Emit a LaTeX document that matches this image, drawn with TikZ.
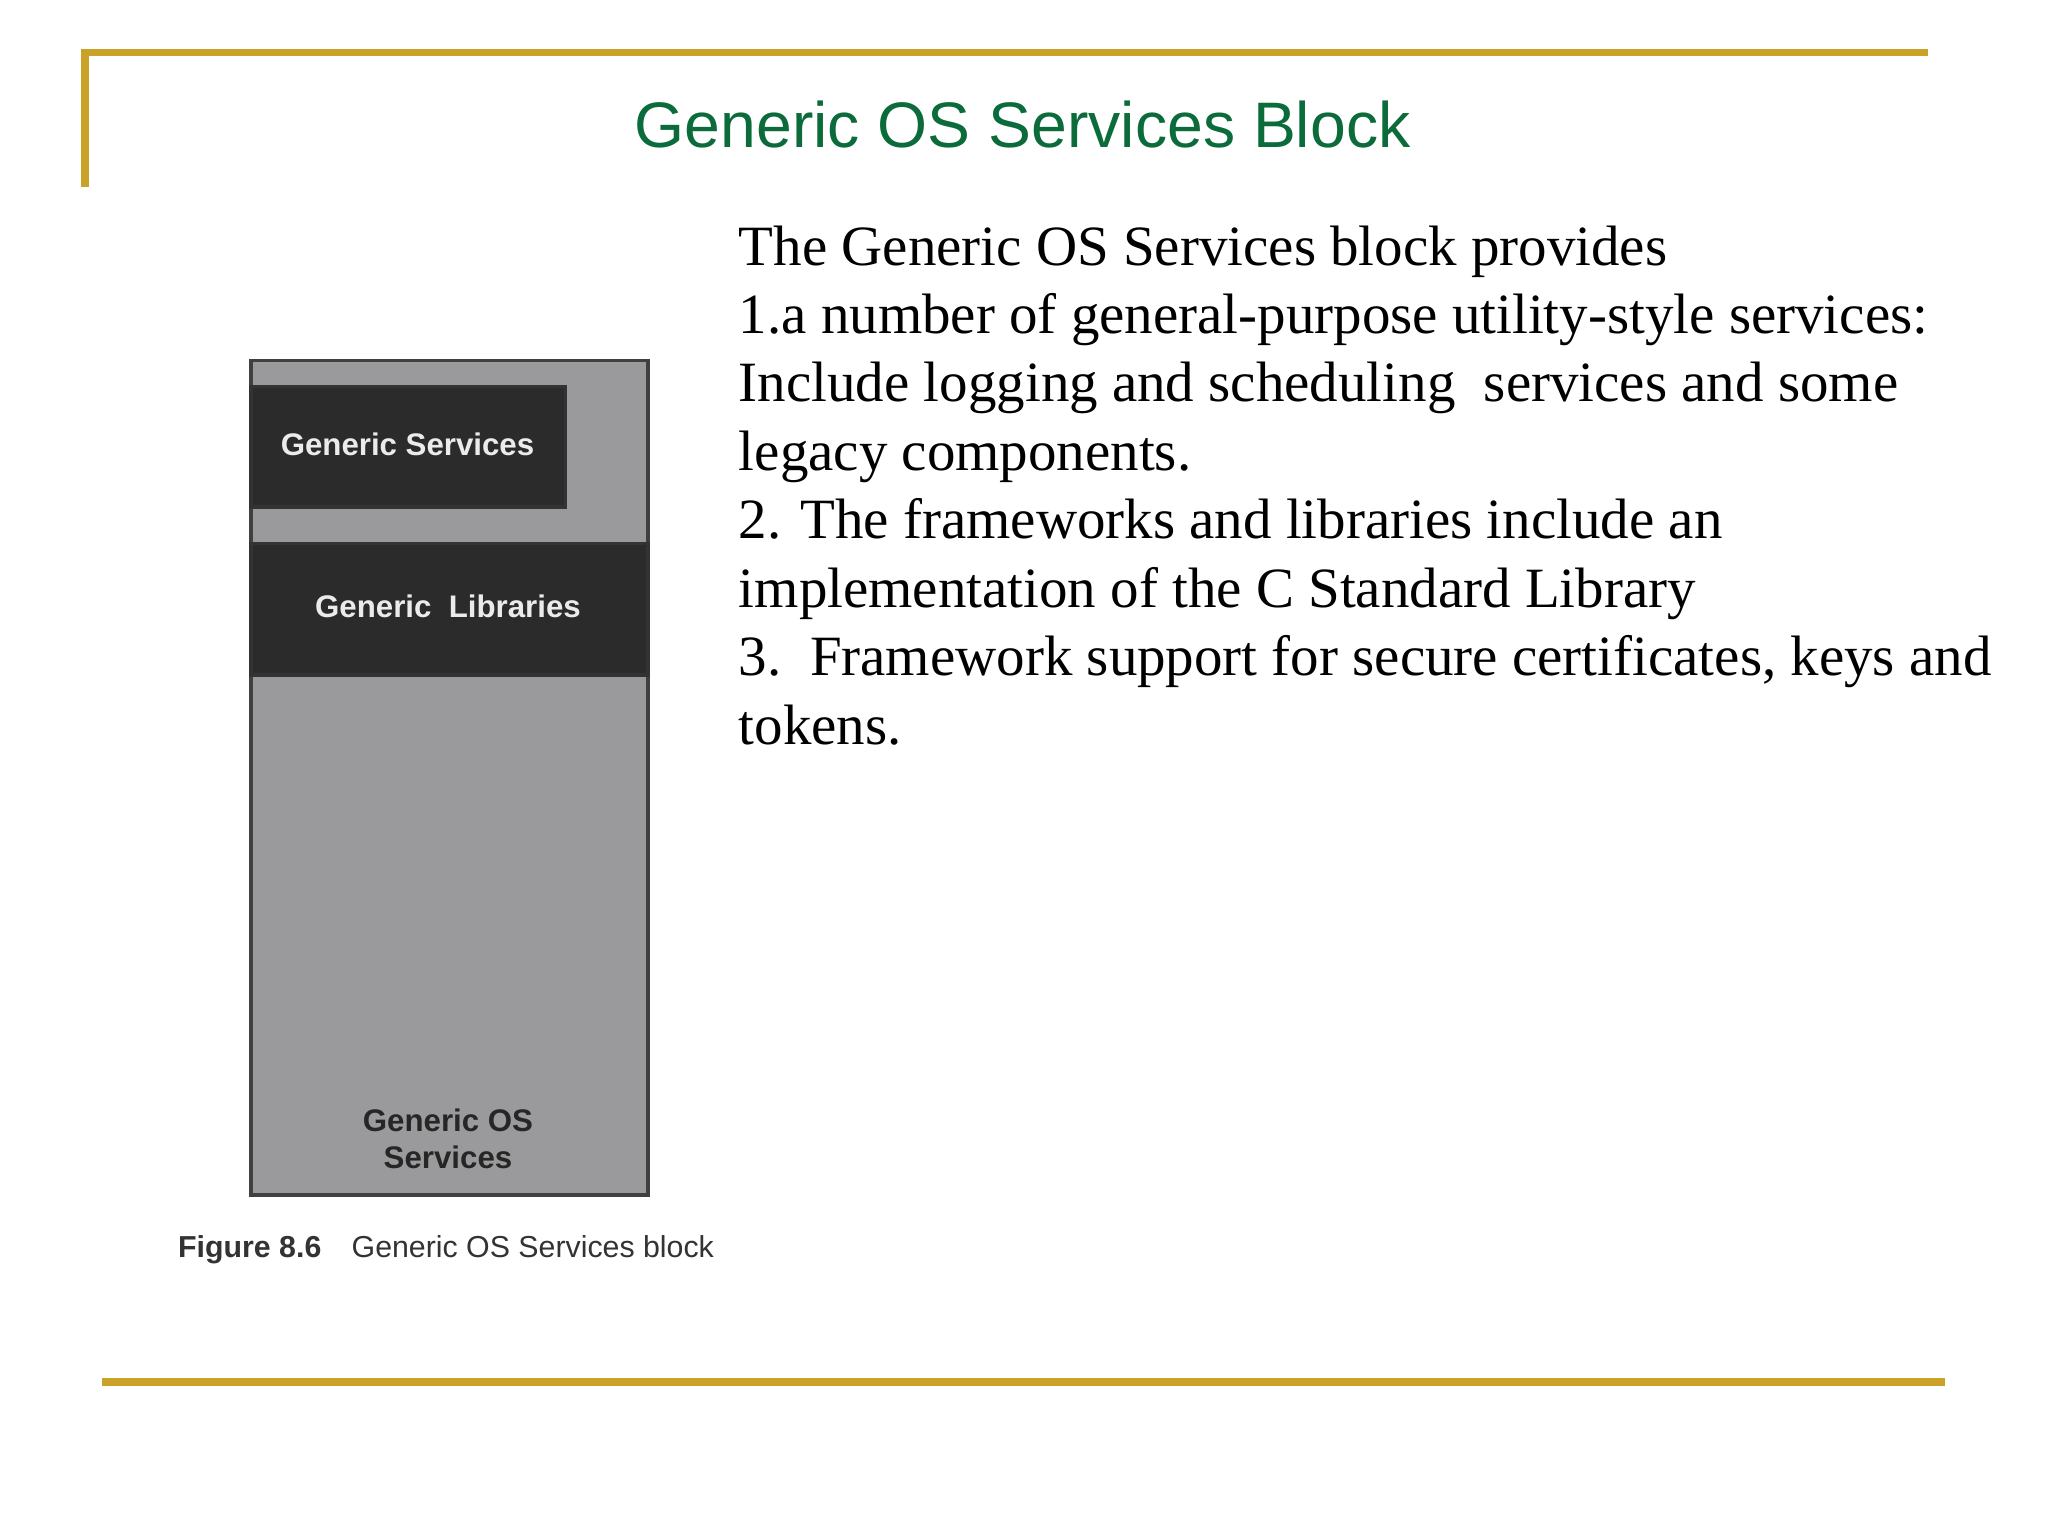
\documentclass[tikz,border=0pt]{standalone}
\usepackage{fontspec}
\setmainfont{Liberation Serif}
\setsansfont{Liberation Sans}
\definecolor{gold}{HTML}{C9A227}
\definecolor{tgreen}{HTML}{0B6B3A}
\definecolor{boxgray}{HTML}{9A999B}
\definecolor{boxdark}{HTML}{2B2B2B}
\begin{document}
\begin{tikzpicture}[x=0.01cm,y=-0.01cm,
  goldline/.style={draw=gold,line width=1.6pt},
  darkbox/.style={draw=black!80,fill=boxdark,line width=0.8pt},
  wlabel/.style={text=white!92!black,font=\sffamily\bfseries\fontsize{6.8}{8}\selectfont},
  body/.style={anchor=north west,align=left,inner sep=0pt,font=\fontsize{12.4}{14.9}\selectfont}]
\useasboundingbox (0,0) rectangle (1568,1176);
\draw[goldline] (65,143) -- (65,40) -- (1476,40);
\draw[goldline] (78,1058) -- (1489,1058);
\node[text=tgreen,font=\sffamily\fontsize{14}{16}\selectfont] (title) at (783,95) {Generic OS Services Block};
\node[body] (txt) at (565,172) {The Generic OS Services block provides\\
1.a number of general-purpose utility-style services:\\
Include logging and scheduling\ \ services and some\\
legacy components.\\
2. The frameworks and libraries include an\\
implementation of the C Standard Library\\
3.\ \ Framework support for secure certificates, keys and\\
tokens.};
\draw[fill=boxgray,draw=black!75,line width=0.8pt] (192,276) rectangle (496,915);
\draw[darkbox] (192,296) rectangle (433,388);
\node[wlabel] (gs) at (312,340) {Generic Services};
\draw[darkbox] (192,416) rectangle (496,517);
\node[wlabel] (gl) at (343,464) {Generic\ \ Libraries};
\node[align=center,text=black!85,font=\sffamily\bfseries\fontsize{6.8}{8.2}\selectfont] (gos) at (343,872) {Generic OS\\Services};
\node[anchor=west,text=black!80,font=\sffamily\fontsize{6.6}{8}\selectfont] (cap) at (124,957) {\textbf{Figure 8.6}\quad Generic OS Services block};
\end{tikzpicture}
\end{document}
